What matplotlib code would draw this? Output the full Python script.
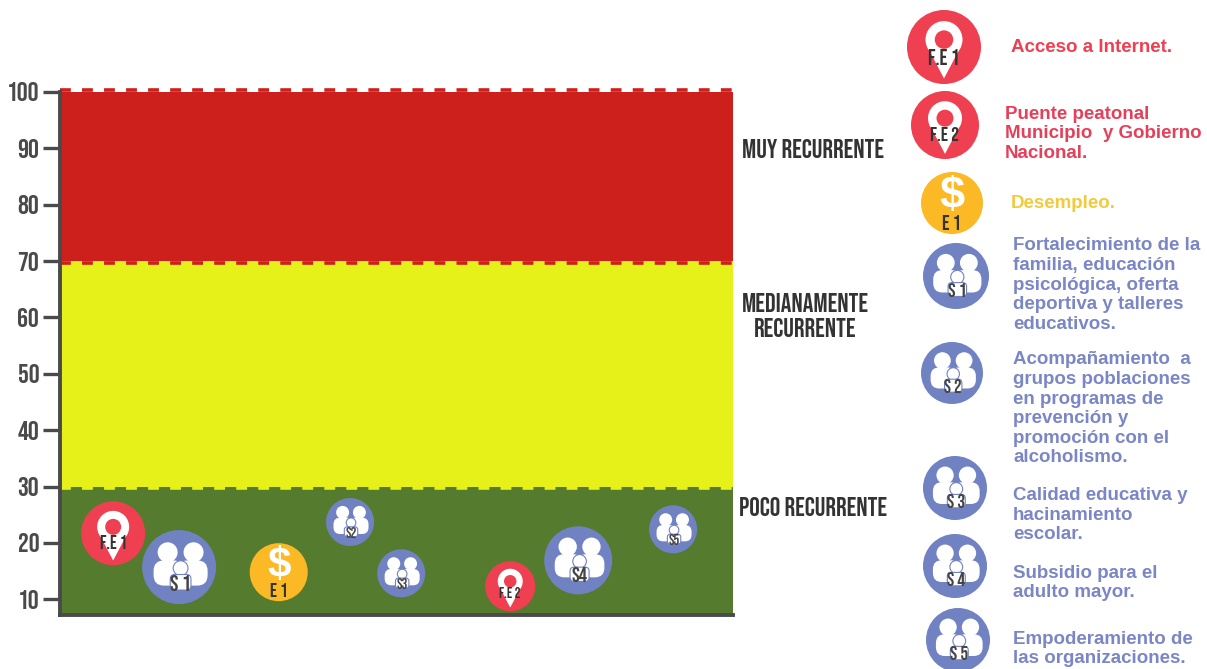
# -*- coding: utf-8 -*-
import matplotlib
matplotlib.use('Agg')
import matplotlib.pyplot as plt
from matplotlib.patches import Circle, Polygon, FancyBboxPatch

NARROW = ['Bebas Neue', 'Barlow Condensed', 'DejaVu Sans']
RED = '#ee4050'
GOLD = '#fbb926'
BLUE = '#7182c3'
DARK = '#4a4a4a'

# chart values
band_low = [30, 70]
band_high = [70, 100]
band_colors = ['#e6f019', '#cd1f1c']
floor_band = 30
floor_color = '#557b2e'
y_ticks = [10, 20, 30, 40, 50, 60, 70, 80, 90, 100]

# icons inside the chart: position on the 0-100 wide axis, level, size
bubble_names = ['F.E 1', 'S 1', 'E 1', 'S2', 'S3', 'F.E 2', 'S4', 'S5']
bubble_kinds = ['pin', 'people', 'money', 'people', 'people', 'pin', 'people', 'people']
bubble_x = [7.9, 17.7, 32.5, 43.1, 50.7, 66.9, 77.0, 91.1]
bubble_y = [21.7, 15.7, 14.8, 23.7, 14.6, 12.3, 16.9, 22.4]
bubble_r = [32, 37, 29, 24, 24, 25, 34, 24]

band_names = ['MUY RECURRENTE', 'MEDIANAMENTE\nRECURRENTE', 'POCO RECURRENTE']

# legend
legend_names = ['F.E 1', 'F.E 2', 'E 1', 'S 1', 'S 2', 'S 3', 'S 4', 'S 5']
legend_kinds = ['pin', 'pin', 'money', 'people', 'people', 'people', 'people', 'people']
legend_texts = ['Acceso a Internet.',
                'Puente peatonal\nMunicipio  y Gobierno\nNacional.',
                'Desempleo.',
                'Fortalecimiento de la\nfamilia, educación\npsicológica, oferta\ndeportiva y talleres\neducativos.',
                'Acompañamiento  a\ngrupos poblaciones\nen programas de\nprevención y\npromoción con el\nalcoholismo.',
                'Calidad educativa y\nhacinamiento\nescolar.',
                'Subsidio para el\nadulto mayor.',
                'Empoderamiento de\nlas organizaciones.']
legend_colors = ['#ee4050', '#e5405a', '#f2cb3c', '#7b86c6', '#7b86c6', '#7b86c6', '#7b86c6', '#7b86c6']

# layout of the legend in pixels
icon_cx = [944, 945, 952, 956, 952, 955, 955, 958]
icon_cy = [47, 125, 203, 276, 373, 488, 566, 640]
icon_r = [37, 34, 31, 33, 31, 32, 32, 32]
text_x = [1011, 1005, 1011, 1013, 1013, 1013, 1013, 1013]
text_y = [47, 134, 204, 285, 409, 515, 583, 649]

W, H = 1207, 669
fig = plt.figure(figsize=(W / 100, H / 100), dpi=100)

# axes in pixels: 100 sits at y=92, 10 at y=599, floor at y=615
ax = fig.add_axes([60 / W, 1 - 615 / H, 673 / W, (615 - 92) / H])
ax.set_xlim(0, 100)
ax.set_ylim(7.2, 100)
ax.axhspan(7.2, floor_band, color=floor_color, lw=0, zorder=1)
for lo, hi, c in zip(band_low, band_high, band_colors):
    ax.axhspan(lo, hi, color=c, lw=0, zorder=1)

# dashed seams between the bands
dash = (0, (3, 3.1))
ax.hlines(100.3, 0, 100, color=band_colors[1], lw=2.6, linestyles=[dash], zorder=2, clip_on=False)
ax.hlines(69.6, 0, 100, color=band_colors[1], lw=2.6, linestyles=[dash], zorder=2)
ax.hlines(29.7, 0, 100, color=band_colors[0], lw=2.6, linestyles=[dash], zorder=2)

for s in ['top', 'right']:
    ax.spines[s].set_visible(False)
for s in ['left', 'bottom']:
    ax.spines[s].set_color(DARK)
    ax.spines[s].set_linewidth(2.8)
    ax.spines[s].set_zorder(3)
ax.set_xticks([])
ax.set_yticks(y_ticks)
ax.tick_params(axis='y', length=12, width=2.4, color=DARK, pad=3, labelcolor=DARK)
for t in ax.get_yticklabels():
    t.set_family(NARROW)
    t.set_fontsize(19.5)

# overlay in pixels for icons and notes
ov = fig.add_axes([0, 0, 1, 1], zorder=5)
ov.set_xlim(0, W)
ov.set_ylim(H, 0)
ov.axis('off')
ov.patch.set_alpha(0)


def draw_icon(kind, name, cx, cy, r):
    if kind == 'pin':
        ov.add_patch(Circle((cx, cy), r, color=RED, lw=0))
        ov.add_patch(Polygon([(cx - 0.46 * r, cy - 0.02 * r), (cx + 0.46 * r, cy - 0.02 * r),
                              (cx, cy + 0.85 * r)], color='white', lw=0))
        ov.add_patch(Circle((cx, cy - 0.2 * r), 0.5 * r, color='white', lw=0))
        ov.add_patch(Circle((cx, cy - 0.2 * r), 0.25 * r, color=RED, lw=0))
        ov.text(cx, cy + 0.26 * r, name, ha='center', va='center', color='#333333',
                family=NARROW, fontsize=0.42 * r)
    elif kind == 'money':
        ov.add_patch(Circle((cx, cy), r, color=GOLD, lw=0))
        ov.text(cx, cy - 0.2 * r, '$', ha='center', va='center', color='white',
                family=['Liberation Sans'], fontsize=1.05 * r, fontweight='bold')
        ov.text(cx, cy + 0.62 * r, name, ha='center', va='center', color='#333333',
                family=NARROW, fontsize=0.48 * r)
    else:
        ov.add_patch(Circle((cx, cy), r, color=BLUE, lw=0))
        for side in [-1, 1]:
            hx = cx + side * 0.35 * r + 0.04 * r
            ov.add_patch(Circle((hx, cy - 0.4 * r), 0.27 * r, color='white', lw=0))
            left = hx - 0.38 * r if side < 0 else hx - 0.44 * r
            ov.add_patch(FancyBboxPatch((left, cy - 0.18 * r), 0.82 * r, 0.68 * r,
                                        boxstyle='round,pad=0,rounding_size=%f' % (0.28 * r),
                                        fc='white', ec='none'))
        ov.add_patch(Circle((cx + 0.04 * r, cy + 0.03 * r), 0.2 * r, fc='white', ec=BLUE, lw=0.8))
        ov.add_patch(FancyBboxPatch((cx - 0.24 * r, cy + 0.2 * r), 0.56 * r, 0.42 * r,
                                    boxstyle='round,pad=0,rounding_size=%f' % (0.12 * r),
                                    fc='white', ec=BLUE, lw=0.8))
        ov.text(cx + 0.04 * r, cy + 0.42 * r, name, ha='center', va='center', color='#444444',
                family=NARROW, fontsize=0.44 * r)


fig.canvas.draw()
to_pixels = ov.transData.inverted()
for i in range(len(bubble_x)):
    px, py = to_pixels.transform(ax.transData.transform((bubble_x[i], bubble_y[i])))
    draw_icon(bubble_kinds[i], bubble_names[i], px, py, bubble_r[i])

for i in range(len(legend_names)):
    draw_icon(legend_kinds[i], legend_names[i], icon_cx[i], icon_cy[i], icon_r[i])
    ov.text(text_x[i], text_y[i], legend_texts[i], ha='left', va='center', color=legend_colors[i],
            family=['Liberation Sans'], fontweight='bold', fontsize=13.5, linespacing=1.2)

# band names on the right of the chart
note_x = [813, 805, 813]
note_y = [149, 315, 507]
for name, nx, ny in zip(band_names, note_x, note_y):
    ov.text(nx, ny, name, ha='center', va='center', color='#333333', family=NARROW,
            fontsize=19, linespacing=1.35)

fig.savefig('out.png', dpi=100)
